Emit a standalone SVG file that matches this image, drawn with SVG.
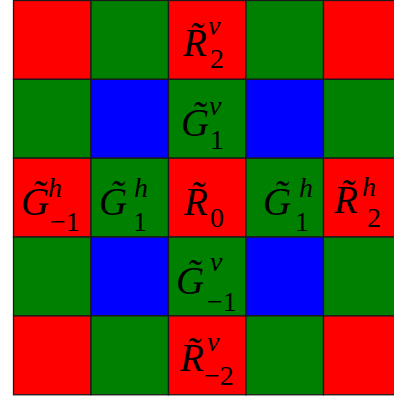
<svg xmlns="http://www.w3.org/2000/svg" width="394" height="398" viewBox="0 0 394 398">
<style>
.c{stroke:#1a1a1a;stroke-width:1.3}
.r{fill:#ff0000}.g{fill:#008000}.b{fill:#0000ff}
text{font-family:"Liberation Serif","Times New Roman",serif;fill:#000}
.m{font-size:39px;font-style:italic}
.s{font-size:28px;font-style:italic}
.n{font-size:28px}
</style>
<rect width="394" height="398" fill="#fff"/>
<g id="grid">
<g id="row0">
<rect class="c r" x="13.5" y="0.5" width="77.5" height="78.85"/>
<rect class="c g" x="91" y="0.5" width="77.5" height="78.85"/>
<rect class="c r" x="168.5" y="0.5" width="77.5" height="78.85"/>
<rect class="c g" x="246" y="0.5" width="77.5" height="78.85"/>
<rect class="c r" x="323.5" y="0.5" width="77.5" height="78.85"/>
</g>
<g id="row1">
<rect class="c g" x="13.5" y="79.35" width="77.5" height="78.85"/>
<rect class="c b" x="91" y="79.35" width="77.5" height="78.85"/>
<rect class="c g" x="168.5" y="79.35" width="77.5" height="78.85"/>
<rect class="c b" x="246" y="79.35" width="77.5" height="78.85"/>
<rect class="c g" x="323.5" y="79.35" width="77.5" height="78.85"/>
</g>
<g id="row2">
<rect class="c r" x="13.5" y="158.2" width="77.5" height="78.85"/>
<rect class="c g" x="91" y="158.2" width="77.5" height="78.85"/>
<rect class="c r" x="168.5" y="158.2" width="77.5" height="78.85"/>
<rect class="c g" x="246" y="158.2" width="77.5" height="78.85"/>
<rect class="c r" x="323.5" y="158.2" width="77.5" height="78.85"/>
</g>
<g id="row3">
<rect class="c g" x="13.5" y="237.05" width="77.5" height="78.85"/>
<rect class="c b" x="91" y="237.05" width="77.5" height="78.85"/>
<rect class="c g" x="168.5" y="237.05" width="77.5" height="78.85"/>
<rect class="c b" x="246" y="237.05" width="77.5" height="78.85"/>
<rect class="c g" x="323.5" y="237.05" width="77.5" height="78.85"/>
</g>
<g id="row4">
<rect class="c r" x="13.5" y="315.9" width="77.5" height="78.85"/>
<rect class="c g" x="91" y="315.9" width="77.5" height="78.85"/>
<rect class="c r" x="168.5" y="315.9" width="77.5" height="78.85"/>
<rect class="c g" x="246" y="315.9" width="77.5" height="78.85"/>
<rect class="c r" x="323.5" y="315.9" width="77.5" height="78.85"/>
</g>
</g>
<g id="labels">
<g id="R2v"><text class="m" x="183" y="56">R̃</text><text class="s" x="208" y="35">v</text><text class="n" x="210" y="68">2</text></g>
<g id="G1v"><text class="m" x="181" y="136">G̃</text><text class="s" x="209" y="115">v</text><text class="n" x="210" y="149">1</text></g>
<g id="R0"><text class="m" x="184" y="215">R̃</text><text class="n" x="210" y="227">0</text></g>
<g id="Gm1h"><text class="m" x="21" y="215">G̃</text><text class="s" x="48" y="197">h</text><text class="n" x="50" y="231">−1</text></g>
<g id="G1h_left"><text class="m" x="99" y="215">G̃</text><text class="s" x="134" y="197">h</text><text class="n" x="133" y="231">1</text></g>
<g id="G1h_right"><text class="m" x="263" y="215">G̃</text><text class="s" x="299" y="197">h</text><text class="n" x="295" y="231">1</text></g>
<g id="R2h"><text class="m" x="334" y="213">R̃</text><text class="s" x="362" y="196">h</text><text class="n" x="367" y="227">2</text></g>
<g id="Gm1v"><text class="m" x="176" y="294">G̃</text><text class="s" x="210" y="271">v</text><text class="n" x="207" y="311">−1</text></g>
<g id="Rm2v"><text class="m" x="180" y="371">R̃</text><text class="s" x="207" y="351">v</text><text class="n" x="204" y="385">−2</text></g>
</g>
</svg>
